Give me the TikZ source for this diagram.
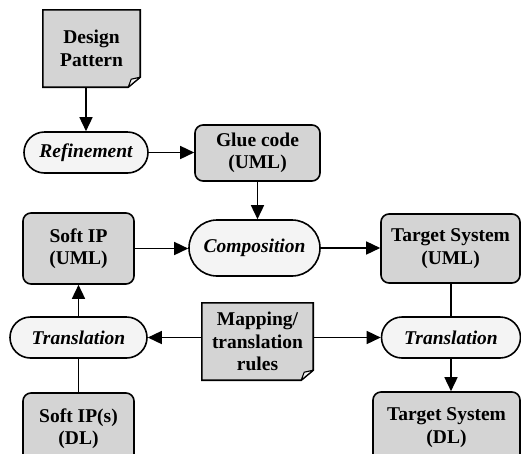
\documentclass[tikz,border=0pt]{standalone}
\usepackage{fontspec}
\setmainfont{Liberation Serif}
\usetikzlibrary{arrows.meta,backgrounds}
\definecolor{boxgray}{RGB}{212,212,212}
\definecolor{procfill}{RGB}{244,244,244}
\begin{document}
\begin{tikzpicture}[x=1pt,y=-1pt,
  every node/.style={font=\fontsize{19.5}{22.5}\selectfont\bfseries, align=center, inner sep=0pt},
  box/.style={draw, line width=1.6pt, fill=boxgray, rounded corners=8pt},
  proc/.style={draw, line width=1.6pt, fill=procfill, rounded corners=20.5pt, minimum height=41pt, font=\fontsize{19.5}{22.5}\selectfont\bfseries\itshape},
  docnode/.style={draw=none, fill=none},
  docline/.style={line width=1.6pt, line join=miter},
  arr/.style={line width=1.5pt, -{Triangle[length=14pt,width=13pt]}},
  conn/.style={line width=1.5pt}]
\useasboundingbox (0,0) rectangle (521,453);
\clip (0,0) rectangle (521,453);

% nodes
\node[docnode, minimum width=97pt, minimum height=77pt] (dp) at (91.5,48.5) {Design\\Pattern};
\node[proc, minimum width=124pt] (ref) at (86,152.5) {Refinement};
\node[box, minimum width=125pt, minimum height=56pt] (glue) at (257.5,153) {Glue code\\(UML)};
\node[box, minimum width=111pt, minimum height=71pt] (sipu) at (78.5,248.5) {Soft IP\\(UML)};
\node[proc, minimum width=131pt, minimum height=56pt, rounded corners=28pt] (comp) at (254.5,248) {Composition};
\node[box, minimum width=139pt, minimum height=69pt] (tsu) at (450.5,248.5) {Target System\\(UML)};
\node[proc, minimum width=137pt] (trl) at (78.5,337.5) {Translation};
\node[docnode, minimum width=111pt, minimum height=77pt] (map) at (257.5,341.5) {Mapping/\\translation\\rules};
\node[proc, minimum width=139pt] (trr) at (451,337.5) {Translation};
\node[box, minimum width=111pt, minimum height=71pt] (sipd) at (78.5,428.5) {Soft IP(s)\\(DL)};
\node[box, minimum width=147pt, minimum height=71pt] (tsd) at (446.5,427.5) {Target System\\(DL)};

% document shapes
\begin{scope}[on background layer]
  \foreach \n in {dp,map}{
    \filldraw[docline, fill=boxgray] (\n.north west) -- (\n.north east) -- ([yshift=10pt]\n.south east)
      -- ([xshift=-12pt]\n.south east) -- (\n.south west) -- cycle;
    \filldraw[line width=1.1pt, fill=procfill, line join=round] ([xshift=-12pt]\n.south east)
      -- ([xshift=-9pt,yshift=8pt]\n.south east) -- ([yshift=10pt]\n.south east) -- cycle;
  }
\end{scope}

% connectors
\draw[arr] (ref.north |- dp.south) -- (ref.north);
\draw[arr] (ref.east) -- (glue.west |- ref.east);
\draw[arr] (glue.south) -- (glue.south |- comp.north);
\draw[arr] (sipu.east) -- (comp.west |- sipu.east);
\draw[arr] (comp.east) -- (tsu.west |- comp.east);
\draw[conn] (tsu.south -| trr.north) -- (trr.north);
\draw[arr] (trr.south) -- (trr.south |- tsd.north);
\draw[arr] (map.west |- trl.east) -- (trl.east);
\draw[arr] (map.east |- trr.west) -- (trr.west);
\draw[arr] (trl.north) -- (trl.north |- sipu.south);
\draw[conn] (sipd.north) -- (sipd.north |- trl.south);
\end{tikzpicture}
\end{document}
